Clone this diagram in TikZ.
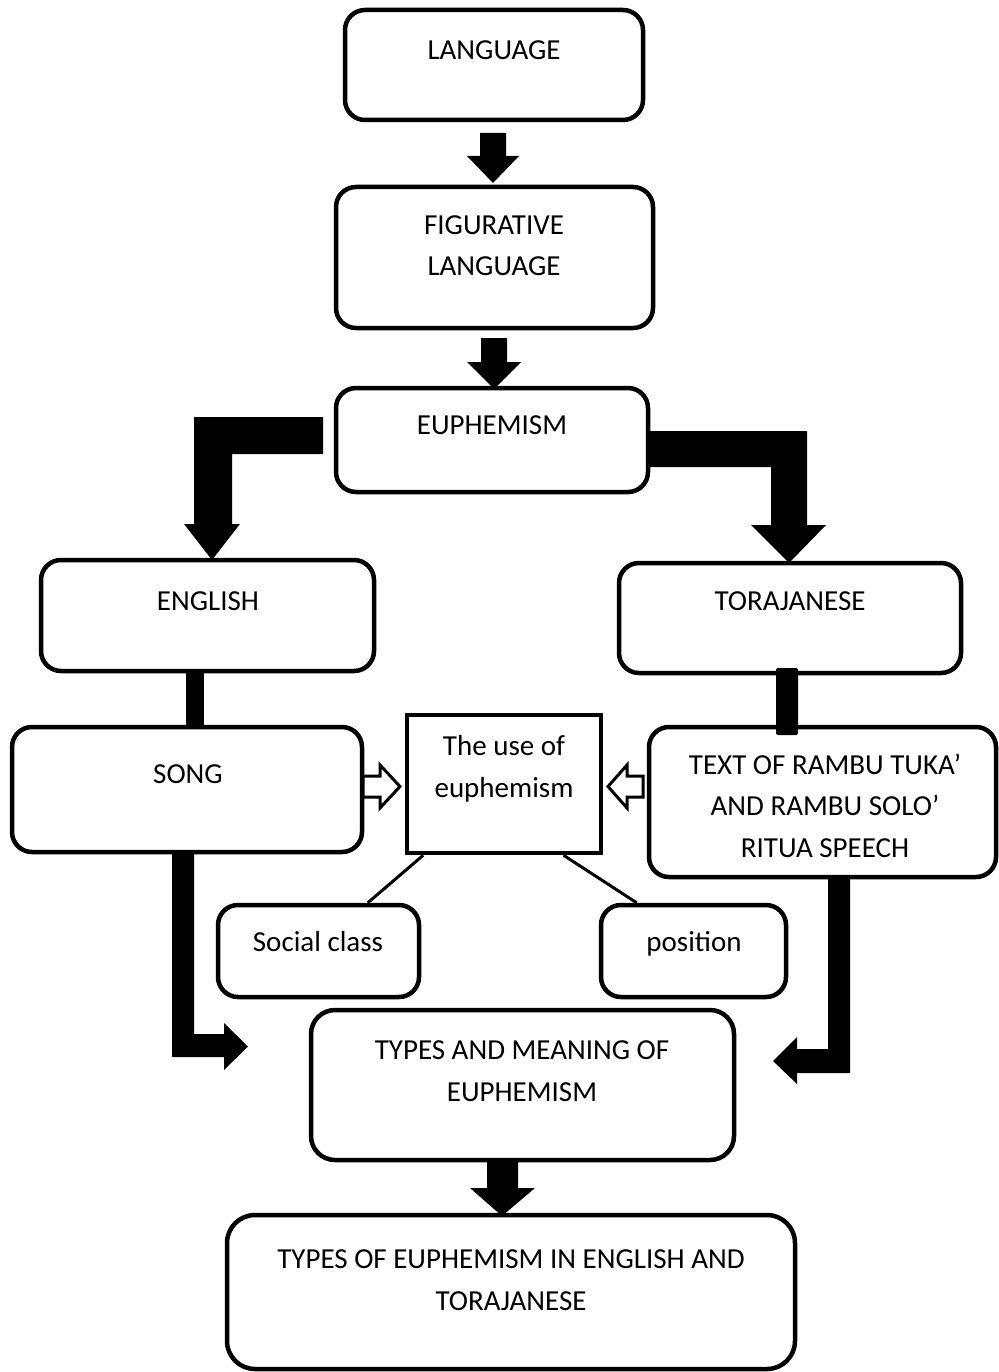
\documentclass[tikz,border=0pt]{standalone}
\usepackage{fontspec}
\setmainfont{Carlito}
\usetikzlibrary{calc}
\begin{document}
\begin{tikzpicture}[x=1pt,y=-1pt,
  rbox/.style={draw,line width=4.5pt,rounded corners=20pt,fill=white,inner sep=0pt},
  sbox/.style={draw,line width=4.5pt,fill=white,inner sep=0pt},
  lbl/.style={font=\fontsize{29}{41.5}\selectfont,align=center,inner sep=0pt,anchor=base},
  blk/.style={fill=black},
  hollow/.style={draw,line width=3pt,fill=white,line join=miter},
  thinline/.style={line width=3pt}]
\useasboundingbox (0,0) rectangle (998,1372);

% block arrows (drawn below boxes)
\fill[blk] (480,133) -- (506,133) -- (506,156) -- (519,156) -- (493,183) -- (467,156) -- (480,156) -- cycle;
\fill[blk] (481,338) -- (507,338) -- (507,362) -- (521,362) -- (494,389) -- (467,362) -- (481,362) -- cycle;
\fill[blk] (323,417) -- (194,417) -- (194,524) -- (184,524) -- (212,560) -- (240,524) -- (232,524) -- (232,454) -- (323,454) -- cycle;
\fill[blk] (640,431) -- (807,431) -- (807,525) -- (826,525) -- (789,563) -- (751,525) -- (771,525) -- (771,467) -- (640,467) -- cycle;
\fill[blk] (186,665) rectangle (204,732);
\fill[blk] (172,846) -- (194,846) -- (194,1034) -- (224,1034) -- (224,1023) -- (248,1046.5) -- (224,1070) -- (224,1057) -- (172,1057) -- cycle;
\fill[blk] (828,872) -- (850,872) -- (850,1073) -- (797,1073) -- (797,1084) -- (773,1061) -- (797,1037) -- (797,1049) -- (828,1049) -- cycle;
\fill[blk] (487,1155) -- (518,1155) -- (518,1188) -- (535,1188) -- (502,1216) -- (470,1188) -- (487,1188) -- cycle;

% boxes
\node[rbox,minimum width=298pt,minimum height=110pt] (lang) at (494,65) {};
\node[rbox,minimum width=317pt,minimum height=141pt] (fig) at (494.5,257.5) {};
\node[rbox,minimum width=312pt,minimum height=104pt] (euph) at (492,440) {};
\node[rbox,minimum width=333pt,minimum height=111pt] (eng) at (207.5,615.5) {};
\node[rbox,minimum width=342pt,minimum height=110pt] (tor) at (790,618) {};
\node[rbox,minimum width=350pt,minimum height=125pt] (song) at (187,789.5) {};
\node[sbox,minimum width=194pt,minimum height=138pt] (use) at (504,784) {};
\node[rbox,minimum width=347pt,minimum height=150pt] (txt) at (822.5,802) {};
\node[rbox,minimum width=201pt,minimum height=92pt] (soc) at (318.5,951) {};
\node[rbox,minimum width=185pt,minimum height=92pt] (pos) at (693.5,951) {};
\node[rbox,minimum width=423pt,minimum height=150pt,rounded corners=24pt] (typ) at (522.5,1085) {};
\node[rbox,minimum width=568pt,minimum height=154pt,rounded corners=28pt] (fin) at (511,1292) {};

% bar from TORAJANESE into TEXT box (on top)
\fill[blk,rounded corners=2pt] (776,668) rectangle (798,735);

% hollow arrows
\draw[hollow] (363,776) -- (380,776) -- (380,765) -- (400,786.5) -- (380,808) -- (380,797) -- (363,797) -- cycle;
\draw[hollow] (643,776) -- (627,776) -- (627,765) -- (608,786.5) -- (627,808) -- (627,797) -- (643,797) -- cycle;

% thin connectors
\draw[thinline] ($(use.south west)!0.093!(use.south east)$) -- ($(soc.north west)!0.74!(soc.north east)$);
\draw[thinline] ($(use.south west)!0.80!(use.south east)$) -- ($(pos.north west)!0.2!(pos.north east)$);

% labels (anchor=base is the baseline of the last line)
\node[lbl] (tlang) at (494,60) {LANGUAGE};
\node[lbl] (tfig) at (494,276) {FIGURATIVE\\LANGUAGE};
\node[lbl] (teuph) at (492,434) {EUPHEMISM};
\node[lbl] (teng) at (208,610) {ENGLISH};
\node[lbl] (ttor) at (790,610) {TORAJANESE};
\node[lbl] (tsong) at (188,783) {SONG};
\node[lbl] (tuse) at (504,797) {The use of\\euphemism};
\node[lbl] (ttxt) at (825,857) {TEXT OF RAMBU TUKA’\\AND RAMBU SOLO’\\RITUA SPEECH};
\node[lbl] (tsoc) at (318,951) {Social class};
\node[lbl] (tpos) at (694,951) {position};
\node[lbl] (ttyp) at (522,1101) {TYPES AND MEANING OF\\EUPHEMISM};
\node[lbl] (tfin) at (511,1310) {TYPES OF EUPHEMISM IN ENGLISH AND\\TORAJANESE};
\end{tikzpicture}
\end{document}
